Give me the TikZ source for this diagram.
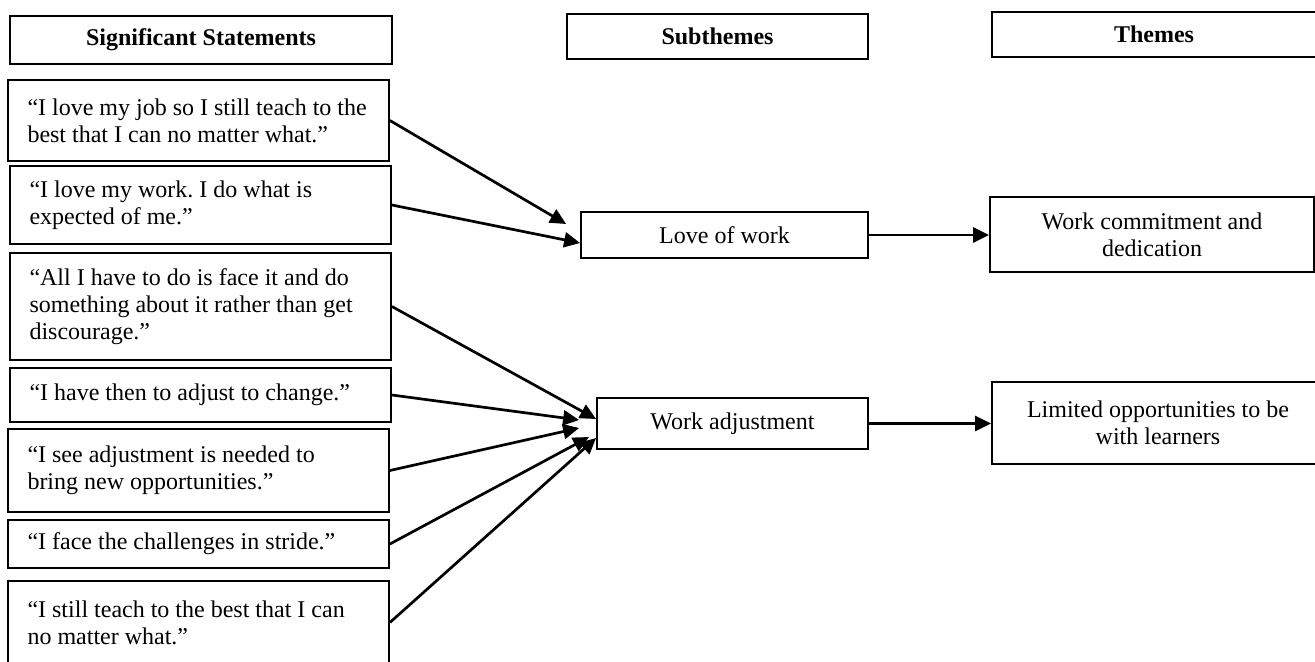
\documentclass[tikz,border=0pt]{standalone}
\usepackage{fontspec}
\setmainfont{Liberation Serif}
\usepackage{tikz}
\usetikzlibrary{positioning, arrows.meta}

\tikzset{
  stmtbox/.style={draw, line width=0.9pt, align=flush left, text width=171pt,
    inner xsep=9.75pt, inner ysep=0pt, font=\fontsize{12}{13.5}\selectfont},
  headbox/.style={draw, line width=0.9pt, inner sep=0pt,
    font=\bfseries\fontsize{12}{13.5}\selectfont},
  themebox/.style={draw, line width=0.9pt, align=center, inner sep=0pt,
    font=\fontsize{12}{13.5}\selectfont},
  link/.style={line width=1.35pt, -{Triangle[length=8pt,width=7.5pt]}}
}

\begin{document}
\frenchspacing
\begin{tikzpicture}[x=0.5pt,y=-0.5pt]
\useasboundingbox (0,0) rectangle (1315,662);

% column headers
\node[headbox, minimum width=191pt, minimum height=24pt] (hstat) at (201,40) {Significant Statements};
\node[headbox, minimum width=150.5pt, minimum height=22.5pt] (hsub) at (717.5,36.5) {Subthemes};
\node[headbox, minimum width=162pt, minimum height=22.5pt] (hthm) at (1154,34.5) {Themes};

% significant statements
\node[stmtbox, minimum height=40.5pt] (s1) at (198.5,120.5) {“I love my job so I still teach to the\\best that I can no matter what.”};
\node[stmtbox, minimum height=39pt] (s2) at (200.5,205) {“I love my work. I do what is\\expected of me.”};
\node[stmtbox, minimum height=53.5pt] (s3) at (200.5,306.5) {“All I have to do is face it and do\\something about it rather than get\\discourage.”};
\node[stmtbox, minimum height=27pt] (s4) at (200.5,395) {“I have then to adjust to change.”};
\node[stmtbox, minimum height=41.5pt] (s5) at (198.5,470.5) {“I see adjustment is needed to\\bring new opportunities.”};
\node[stmtbox, minimum height=24pt] (s6) at (198.5,544) {“I face the challenges in stride.”};
\node[stmtbox, minimum height=41.5pt] (s7) at (198.5,622.5) {“I still teach to the best that I can\\no matter what.”};

% subthemes
\node[themebox, minimum width=143.5pt, minimum height=23pt] (love) at (724.5,235) {Love of work};
\node[themebox, minimum width=135.5pt, minimum height=25.5pt] (adjust) at (732.5,423.5) {Work adjustment};

% themes
\node[themebox, minimum width=162pt, minimum height=37.5pt] (commit) at (1152,234.5) {Work commitment and\\dedication};
\node[themebox, minimum width=166pt, minimum height=41pt] (limit) at (1158,423) {Limited opportunities to be\\with learners};

% statements to subthemes
\draw[link] (s1.east) -- ([xshift=-7pt,yshift=5.5pt]love.west);
\draw[link] (s2.east) -- ([yshift=-4pt]love.west);
\draw[link] (s3.east) -- ([yshift=2.25pt]adjust.west);
\draw[link] (s4.east) -- ([xshift=-8.5pt,yshift=1.75pt]adjust.west);
\draw[link] (s5.east) -- ([xshift=-8.5pt,yshift=-2.25pt]adjust.west);
\draw[link] (s6.east) -- ([xshift=-3.5pt,yshift=-6.75pt]adjust.west);
\draw[link] (s7.east) -- ([yshift=-7.25pt]adjust.west);

% subthemes to themes
\draw[link] (love.east) -- (commit.west |- love.east);
\draw[link] (adjust.east) -- (limit.west |- adjust.east);
\end{tikzpicture}
\end{document}
